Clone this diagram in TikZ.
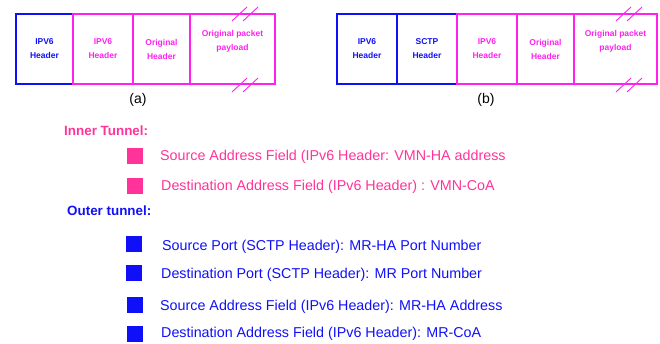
\documentclass[tikz,border=0pt]{standalone}
\usepackage{fontspec}
\setmainfont{Liberation Sans}
\definecolor{hdrblue}{HTML}{1010F8}
\definecolor{hdrmag}{HTML}{FF22EE}
\definecolor{legpink}{HTML}{FF3399}
\begin{document}
\begin{tikzpicture}[x=1pt,y=-1pt,
  field/.style={draw, line width=1.3pt, inner sep=0pt, minimum height=70pt,
    align=center, font=\bfseries\fontsize{8.5}{14}\selectfont},
  outerfield/.style={field, draw=hdrblue, text=hdrblue},
  innerfield/.style={field, draw=hdrmag, text=hdrmag},
  brk/.style={draw=hdrmag, line width=0.9pt},
  caption/.style={font=\fontsize{14}{16}\selectfont},
  legtitle/.style={anchor=west, inner sep=0pt, font=\bfseries\fontsize{13.4}{16}\selectfont},
  legtext/.style={anchor=west, inner sep=0pt, font=\fontsize{14.3}{17}\selectfont},
  swatch/.style={inner sep=0pt, minimum width=16pt, minimum height=16pt},
]
\useasboundingbox (0,0) rectangle (660,343);

% ---- packet (a): IPv6-in-IPv6 ----
\node[outerfield, minimum width=57pt] (a1) at (44.5,49) {IPV6\\Header};
\node[innerfield, minimum width=60pt] (a2) at (103,49) {IPV6\\Header};
\node[innerfield, minimum width=57pt] (a3) at (161.5,49) {Original\\Header};
\node[innerfield, minimum width=85pt] (a4) at (232.5,49) {Original packet\\payload\\[3pt]};
\draw[brk] (232,21) -- (247,7);
\draw[brk] (243,21) -- (258,7);
\draw[brk] (232,92) -- (247,78);
\draw[brk] (243,92) -- (258,78);
\node[caption] (capa) at (138,100) {(a)};

% ---- packet (b): IPv6 + SCTP outer headers ----
\node[outerfield, minimum width=60pt] (b1) at (367,49) {IPV6\\Header};
\node[outerfield, minimum width=60pt] (b2) at (427,49) {SCTP\\Header};
\node[innerfield, minimum width=60pt] (b3) at (487,49) {IPV6\\Header};
\node[innerfield, minimum width=57pt] (b4) at (545.5,49) {Original\\Header};
\node[innerfield, minimum width=83pt] (b5) at (615.5,49) {Original packet\\payload\\[3pt]};
\draw[brk] (616,21) -- (631,7);
\draw[brk] (627,21) -- (642,7);
\draw[brk] (616,92) -- (631,78);
\draw[brk] (627,92) -- (642,78);
\node[caption] (capb) at (486,100) {(b)};

% ---- legend: inner tunnel ----
\node[legtitle, text=legpink] (inner) at (64,131) {Inner Tunnel:};
\node[swatch, fill=legpink] (i1) at (134.5,156) {};
\node[legtext, text=legpink] (i1t) at (160,157) {Source Address Field (IPv6 Header: VMN-HA address};
\node[swatch, fill=legpink] (i2) at (134.5,185.5) {};
\node[legtext, text=legpink] (i2t) at (161,187) {Destination Address Field (IPv6 Header) : VMN-CoA};

% ---- legend: outer tunnel ----
\node[legtitle, text=hdrblue] (outer) at (67,211) {Outer tunnel:};
\node[swatch, fill=hdrblue] (o1) at (134,244) {};
\node[legtext, text=hdrblue] (o1t) at (162,247) {Source Port (SCTP Header): MR-HA Port Number};
\node[swatch, fill=hdrblue] (o2) at (133.5,272.5) {};
\node[legtext, text=hdrblue] (o2t) at (161,275) {Destination Port (SCTP Header): MR Port Number};
\node[swatch, fill=hdrblue] (o3) at (134.5,305) {};
\node[legtext, text=hdrblue] (o3t) at (160,307) {Source Address Field (IPv6 Header): MR-HA Address};
\node[swatch, fill=hdrblue] (o4) at (134.5,334) {};
\node[legtext, text=hdrblue] (o4t) at (161,334) {Destination Address Field (IPv6 Header): MR-CoA};
\end{tikzpicture}
\end{document}
